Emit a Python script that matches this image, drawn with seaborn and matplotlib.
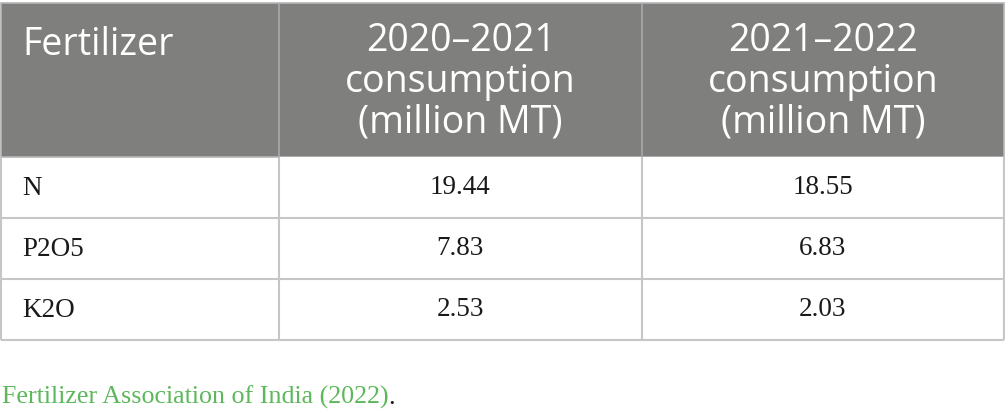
import numpy as np
import pandas as pd
import matplotlib.pyplot as plt
import seaborn as sns
from matplotlib.colors import ListedColormap
from matplotlib.patches import Rectangle

# Table content
fertilizers = ["N", "P2O5", "K2O"]
cons_2020_21 = [19.44, 7.83, 2.53]
cons_2021_22 = [18.55, 6.83, 2.03]
header_labels = ["Fertilizer",
                 "2020\u20132021\nconsumption\n(million MT)",
                 "2021\u20132022\nconsumption\n(million MT)"]
source_note = "Fertilizer Association of India (2022)"

df = pd.DataFrame({"2020-2021": cons_2020_21, "2021-2022": cons_2021_22},
                  index=fertilizers)

W, H = 1005, 418
col_edges = [1, 279, 642, 1004]
head_top, head_bot = 3, 157
row_h = 61
body_bot = head_bot + row_h * len(fertilizers)

header_gray = "#7f807e"
grid_col = "#c6c6c6"
serif = ["Liberation Serif", "DejaVu Serif"]
sans = ["Open Sans", "DejaVu Sans"]

fig = plt.figure(figsize=(W / 100, H / 100), dpi=100)

# base axes in pixel coordinates for header, first column and rules
ax = fig.add_axes([0, 0, 1, 1])
ax.set_xlim(0, W)
ax.set_ylim(H, 0)
ax.axis("off")

# numeric cells drawn with a heatmap
ax_hm = fig.add_axes([col_edges[1] / W, (H - body_bot) / H,
                      (col_edges[3] - col_edges[1]) / W, (body_bot - head_bot) / H])
sns.heatmap(df, ax=ax_hm, cmap=ListedColormap(["white"]), cbar=False,
            annot=True, fmt=".2f", xticklabels=False, yticklabels=False,
            annot_kws={"fontsize": 19.5, "color": "#1a1a1a", "family": serif})
ax_hm.set(xlabel="", ylabel="")

# header band
ax.add_patch(Rectangle((col_edges[0], head_top), col_edges[3] - col_edges[0],
                       head_bot - head_top, facecolor=header_gray,
                       edgecolor="#b5b5b5", lw=1.2, zorder=1))
for x in col_edges[1:3]:
    ax.vlines(x, head_top, head_bot, color="#a9a9a9", lw=1.2, zorder=2)

ax.text(22, 45, header_labels[0], color="white", fontsize=27, family=sans,
        ha="left", va="center")
for i, lab in enumerate(header_labels[1:]):
    xc = (col_edges[i + 1] + col_edges[i + 2]) / 2
    ax.text(xc, 82, lab, color="white", fontsize=27, family=sans,
            ha="center", va="center", linespacing=1.1)

# first column labels
for i, name in enumerate(fertilizers):
    ax.text(22, head_bot + row_h * (i + 0.5) + 1, name, fontsize=19.5,
            family=serif, color="#1a1a1a", ha="left", va="center")

# body rules (drawn on the top figure layer)
rule_ax = fig.add_axes([0, 0, 1, 1], zorder=5)
rule_ax.set_xlim(0, W)
rule_ax.set_ylim(H, 0)
rule_ax.axis("off")
for i in range(1, len(fertilizers) + 1):
    rule_ax.hlines(head_bot + row_h * i, col_edges[0], col_edges[3],
                   color=grid_col, lw=1.5)
for x in col_edges:
    rule_ax.vlines(x, head_bot, body_bot, color=grid_col, lw=1.5)

# source note
t1 = ax.text(2, 397, source_note, color="#5cb85a", fontsize=18.7,
             family=serif, ha="left", va="center")
ax.annotate(".", xy=(1, 0), xycoords=t1, color="#1a1a1a", fontsize=18.7,
            family=serif, ha="left", va="bottom")

fig.savefig("out.png", dpi=100)
plt.close(fig)
